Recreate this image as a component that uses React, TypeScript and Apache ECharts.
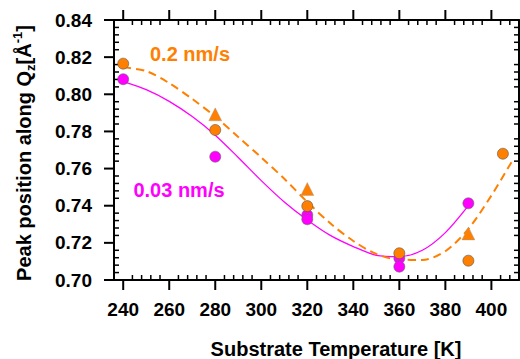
import React, { useEffect, useRef } from "react";
import * as echarts from "echarts";

// Tick labels
const xTickLabels = [240, 260, 280, 300, 320, 340, 360, 380, 400];
const yTickLabels = [0.7, 0.72, 0.74, 0.76, 0.78, 0.8, 0.82, 0.84];

// 0.2 nm/s measured points (circles)
const fastCircleT = [240, 280, 320, 360, 390, 405];
const fastCircleQ = [0.8165, 0.7808, 0.7398, 0.7144, 0.7104, 0.768];
// 0.2 nm/s measured points (triangles)
const fastTriT = [280, 320, 390];
const fastTriQ = [0.7892, 0.749, 0.7251];
// 0.03 nm/s measured points (circles)
const slowCircleT = [240, 280, 320, 320, 360, 360, 390];
const slowCircleQ = [0.8081, 0.7664, 0.735, 0.7327, 0.7117, 0.7072, 0.7413];

// fit curves
const fastFitT = [240, 250, 260, 270, 280, 290, 300, 310, 320, 330, 340, 350, 360, 370, 380, 390, 400, 409];
const fastFitQ = [0.8145, 0.8125, 0.806, 0.7975, 0.788, 0.777, 0.766, 0.7545, 0.742, 0.7305, 0.721, 0.714, 0.711, 0.7108, 0.7155, 0.7275, 0.7455, 0.764];
const slowFitT = [240, 250, 260, 270, 280, 290, 300, 310, 320, 330, 340, 350, 360, 370, 380, 390];
const slowFitQ = [0.8068, 0.8025, 0.7962, 0.788, 0.778, 0.766, 0.7535, 0.742, 0.7323, 0.724, 0.718, 0.7133, 0.7126, 0.716, 0.7255, 0.74];

const ORANGE = "#FF8000";
const MAGENTA = "#FF00FF";
const FONT = "'Liberation Sans', Arial, sans-serif";

const X_MIN = 236;
const X_MAX = 412;
const Y_MIN = 0.7;
const Y_MAX = 0.84;

const pairs = (xs: number[], ys: number[]) => xs.map((x, i) => [x, ys[i]]);

function minorX(): number[] {
  const out: number[] = [];
  for (let v = X_MIN + 4; v < X_MAX; v += 4) {
    if (v % 20 !== 0) out.push(v);
  }
  return out;
}
function minorY(): number[] {
  const out: number[] = [];
  for (let i = 1; i < 35; i++) {
    if (i % 5 !== 0) out.push(Math.round((0.7 + i * 0.004) * 1000) / 1000);
  }
  return out;
}

export default function App() {
  const ref = useRef<HTMLDivElement>(null);
  useEffect(() => {
    if (!ref.current) return;
    const chart = echarts.init(ref.current, null, { renderer: "svg" });
    const line2 = { show: true, lineStyle: { color: "#000", width: 2 } };
    const textStyle = { color: "#000", fontSize: 19, fontWeight: "bold", fontFamily: FONT };
    const texts: any[] = [
      {
        type: "text",
        x: 24,
        y: 153,
        rotation: Math.PI / 2,
        style: {
          text: "Peak position along Q{sub|z}[Å{sup|-1}]",
          fontSize: 20,
          fontWeight: "bold",
          fontFamily: FONT,
          fill: "#000",
          align: "center",
          verticalAlign: "middle",
          lineHeight: 26,
          rich: {
            sub: { fontSize: 13, fontWeight: "bold", fontFamily: FONT, fill: "#000", verticalAlign: "bottom", lineHeight: 26 },
            sup: { fontSize: 13, fontWeight: "bold", fontFamily: FONT, fill: "#000", verticalAlign: "top", lineHeight: 26 },
          },
        },
      },
      {
        type: "text",
        x: 336,
        y: 349,
        style: { text: "Substrate Temperature [K]", fontSize: 20, fontWeight: "bold", fontFamily: FONT, fill: "#000", align: "center", verticalAlign: "middle" },
      },
      {
        type: "text",
        x: 190,
        y: 54,
        style: { text: "0.2 nm/s", fontSize: 20, fontWeight: "bold", fontFamily: FONT, fill: ORANGE, align: "center", verticalAlign: "middle" },
      },
      {
        type: "text",
        x: 179,
        y: 190,
        style: { text: "0.03 nm/s", fontSize: 20, fontWeight: "bold", fontFamily: FONT, fill: MAGENTA, align: "center", verticalAlign: "middle" },
      },
    ];
    const option: any = {
      animation: false,
      grid: { left: 114, right: 1, top: 20, bottom: 79, containLabel: false },
      xAxis: [
        {
          type: "value",
          min: X_MIN,
          max: X_MAX,
          position: "bottom",
          splitLine: { show: false },
          axisLine: line2,
          axisTick: { show: false },
          axisLabel: { ...textStyle, customValues: xTickLabels, margin: 20 },
        },
        {
          type: "value",
          min: X_MIN,
          max: X_MAX,
          position: "top",
          splitLine: { show: false },
          axisLine: line2,
          axisTick: { show: false },
          axisLabel: { show: false },
        },
      ],
      yAxis: [
        {
          type: "value",
          min: Y_MIN,
          max: Y_MAX,
          position: "left",
          splitLine: { show: false },
          axisLine: line2,
          axisTick: { show: false },
          axisLabel: { ...textStyle, customValues: yTickLabels, margin: 22, formatter: (v: number) => v.toFixed(2) },
        },
        {
          type: "value",
          min: Y_MIN,
          max: Y_MAX,
          position: "right",
          splitLine: { show: false },
          axisLine: line2,
          axisTick: { show: false },
          axisLabel: { show: false },
        },
      ],
      series: [
        {
          type: "line",
          data: pairs(slowFitT, slowFitQ),
          smooth: 0.3,
          showSymbol: false,
          lineStyle: { color: MAGENTA, width: 1.3 },
          z: 2,
        },
        {
          type: "line",
          data: pairs(fastFitT, fastFitQ),
          smooth: 0.3,
          showSymbol: false,
          lineStyle: { color: ORANGE, width: 2, type: [8, 5] },
          z: 2,
        },
        {
          type: "scatter",
          data: pairs(slowCircleT, slowCircleQ),
          symbol: "circle",
          symbolSize: 11,
          itemStyle: { color: MAGENTA, borderColor: "#666", borderWidth: 0.6, opacity: 1 },
          z: 3,
        },
        {
          type: "scatter",
          data: pairs(fastCircleT, fastCircleQ),
          symbol: "circle",
          symbolSize: 11,
          itemStyle: { color: ORANGE, borderColor: "#555", borderWidth: 0.6, opacity: 1 },
          z: 4,
        },
        {
          type: "scatter",
          data: pairs(fastTriT, fastTriQ),
          symbol: "triangle",
          symbolSize: 13,
          itemStyle: { color: ORANGE, borderColor: "#999", borderWidth: 0.4, opacity: 1 },
          z: 4,
        },
      ],
      graphic: texts,
    };
    chart.setOption(option);

    // tick marks placed through the chart's own axis scales
    const toX = (v: number) => Number(chart.convertToPixel({ xAxisIndex: 0 }, v));
    const toY = (v: number) => Number(chart.convertToPixel({ yAxisIndex: 0 }, v));
    const x0 = toX(X_MIN);
    const x1 = toX(X_MAX);
    const y0 = toY(Y_MIN);
    const y1 = toY(Y_MAX);
    const ticks: any[] = [];
    const seg = (a: number, b: number, c: number, d: number, w: number) =>
      ticks.push({
        type: "line",
        shape: { x1: a, y1: b, x2: c, y2: d },
        style: { stroke: "#000", lineWidth: w },
      });
    xTickLabels.forEach((v) => {
      const x = toX(v);
      seg(x, y1, x, y1 - 10, 2);
    });
    xTickLabels.forEach((v) => {
      const x = toX(v);
      seg(x, y0, x, y0 + 10, 2);
    });
    minorX().forEach((v) => {
      const x = toX(v);
      seg(x, y1, x, y1 + 5, 1.5);
    });
    minorX().forEach((v) => {
      const x = toX(v);
      seg(x, y0, x, y0 - 5, 1.5);
    });
    yTickLabels.forEach((v) => {
      const y = toY(v);
      seg(x0, y, x0 - 10, y, 2);
    });
    minorY().forEach((v) => {
      const y = toY(v);
      seg(x0, y, x0 + 5, y, 1.5);
    });
    minorY().forEach((v) => {
      const y = toY(v);
      seg(x1, y, x1 - 5, y, 1.5);
    });
    chart.setOption({ graphic: [...texts, ...ticks] });
    return () => chart.dispose();
  }, []);
  return (
    <div
      ref={ref}
      style={{ position: "fixed", left: 0, top: 0, width: 520, height: 359, background: "#fff" }}
    />
  );
}
